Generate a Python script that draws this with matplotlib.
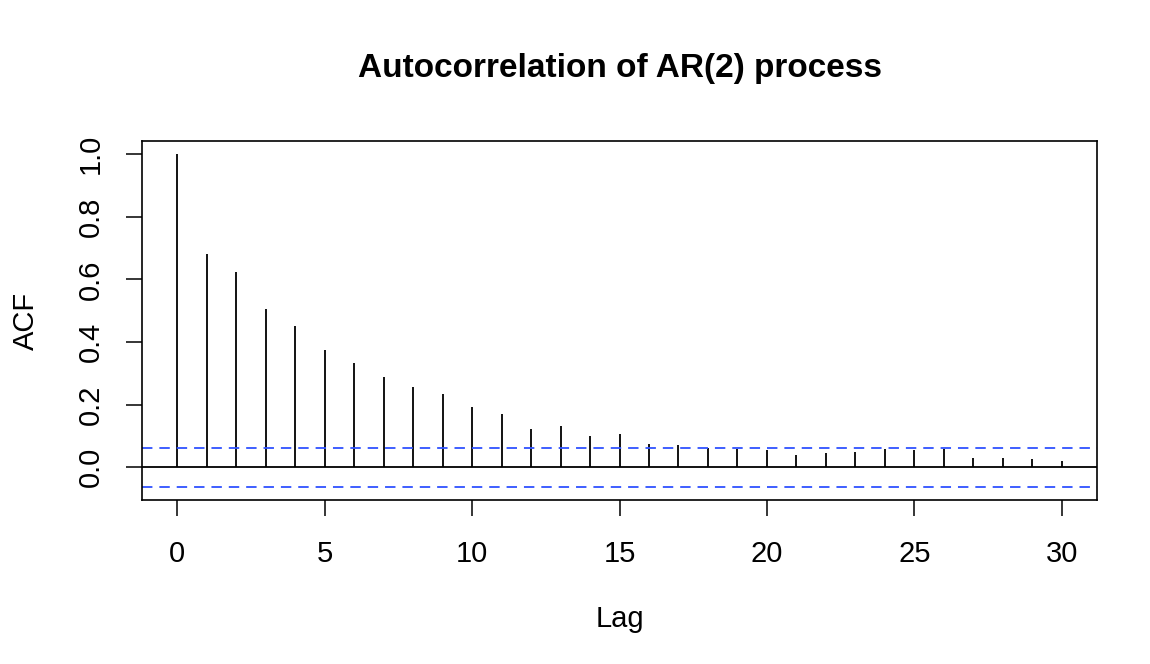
import numpy as np
import matplotlib
matplotlib.use("Agg")
import matplotlib.pyplot as plt

plt.rcParams["font.family"] = ["Liberation Sans", "DejaVu Sans"]
plt.rcParams["lines.scale_dashes"] = False

# ACF values
lags = np.arange(0, 31)
acf = [1.000, 0.680, 0.623, 0.506, 0.450, 0.376, 0.333, 0.290, 0.256, 0.235,
       0.194, 0.169, 0.122, 0.131, 0.101, 0.107, 0.074, 0.070, 0.063, 0.059,
       0.054, 0.040, 0.047, 0.049, 0.059, 0.055, 0.060, 0.029, 0.029, 0.027,
       0.020]
n_obs = 1000
ci = 1.96 / np.sqrt(n_obs)

fig = plt.figure(figsize=(11.5, 6.64), dpi=100)
ax = fig.add_axes([142 / 1150, 1 - 500 / 664, (1097 - 142) / 1150, (500 - 141) / 664])

ax.vlines(lags, 0, acf, color="black", linewidth=1.3)
ax.axhline(0, color="black", linewidth=1.3)
for y in (ci, -ci):
    ax.axhline(y, color="#2f52ff", linewidth=1.3, linestyle=(0, (7.5, 5)))

ax.set_xlim(-1.2, 31.2)
ax.set_ylim(-0.1045, 1.0425)
ax.set_xticks([0, 5, 10, 15, 20, 25, 30])
ax.set_yticks([0.0, 0.2, 0.4, 0.6, 0.8, 1.0])
ax.set_yticklabels(["0.0", "0.2", "0.4", "0.6", "0.8", "1.0"], rotation=90, va="center")
ax.tick_params(axis="both", labelsize=21, length=11.5, width=1.1, pad=17)
ax.tick_params(axis="y", pad=15)

for s in ax.spines.values():
    s.set_linewidth(1.2)

ax.set_xlabel("Lag", fontsize=21, labelpad=27)
ax.set_ylabel("ACF", fontsize=21, labelpad=27)
ax.set_title("Autocorrelation of AR(2) process", fontsize=24, fontweight="bold", pad=46)

fig.savefig("out.png", dpi=100)
